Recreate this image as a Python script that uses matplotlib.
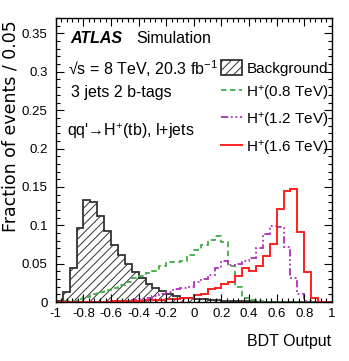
import numpy as np
import matplotlib
matplotlib.use("Agg")
import matplotlib.pyplot as plt
from matplotlib.ticker import MultipleLocator, FuncFormatter

plt.rcParams['font.family'] = ['Liberation Sans', 'DejaVu Sans']
plt.rcParams['mathtext.fontset'] = 'custom'
plt.rcParams['mathtext.rm'] = 'Liberation Sans'
plt.rcParams['mathtext.it'] = 'Liberation Sans:italic'
plt.rcParams['mathtext.bf'] = 'Liberation Sans:bold'
plt.rcParams['axes.unicode_minus'] = False
plt.rcParams['hatch.linewidth'] = 0.7

# BDT output binning, 40 bins of 0.05 from -1 to 1
edges = np.linspace(-1.0, 1.0, 41)

# Fraction of events per bin
background = [0.002, 0.013, 0.044, 0.097, 0.133, 0.131, 0.112, 0.093, 0.075, 0.061,
              0.050, 0.039, 0.031, 0.024, 0.019, 0.015, 0.011, 0.008, 0.006, 0.005,
              0.0043, 0.0038, 0.003, 0.0025, 0.002, 0.0018, 0.0015, 0.0012, 0.001, 0.0008,
              0.0006, 0.0005, 0.0004, 0.0003, 0.0002, 0.0002, 0.0001, 0.0001, 0.0, 0.0]
hp_800 = [0.0, 0.001, 0.002, 0.004, 0.007, 0.010, 0.013, 0.016, 0.019, 0.022,
          0.026, 0.031, 0.034, 0.038, 0.040, 0.047, 0.052, 0.052, 0.054, 0.061,
          0.068, 0.074, 0.081, 0.086, 0.078, 0.047, 0.020, 0.0056, 0.003, 0.001,
          0.0005, 0.0005, 0.0004, 0.0003, 0.0003, 0.0002, 0.0002, 0.0001, 0.0001, 0.0]
hp_1200 = [0.0005, 0.0005, 0.0005, 0.0005, 0.0005, 0.0005, 0.0005, 0.0005, 0.001, 0.0015,
           0.002, 0.003, 0.004, 0.006, 0.008, 0.011, 0.013, 0.0165, 0.018, 0.020,
           0.026, 0.030, 0.036, 0.045, 0.053, 0.049, 0.050, 0.053, 0.058, 0.071,
           0.089, 0.099, 0.098, 0.072, 0.032, 0.011, 0.002, 0.0, 0.0, 0.0]
hp_1600 = [0.0003, 0.0003, 0.0003, 0.0003, 0.0003, 0.0003, 0.0005, 0.0008, 0.001, 0.0012,
           0.0015, 0.002, 0.002, 0.0025, 0.003, 0.003, 0.0035, 0.004, 0.0048, 0.0056,
           0.009, 0.011, 0.0165, 0.019, 0.023, 0.026, 0.034, 0.044, 0.041, 0.047,
           0.060, 0.076, 0.121, 0.145, 0.147, 0.092, 0.039, 0.006, 0.0, 0.0]

fig = plt.figure(figsize=(3.49, 3.61), dpi=100)
ax = fig.add_axes([0.160, 0.163, 0.791, 0.787])

ax.stairs(background, edges, fill=True, facecolor="white", edgecolor="#333333",
          hatch="////", linewidth=1.3, label="Background")
ax.stairs(hp_800, edges, color="#44aa44", linewidth=1.3, linestyle=(0, (3, 2)),
          label="H$^{+}$(0.8 TeV)")
ax.stairs(hp_1200, edges, color="#b030b8", linewidth=1.3,
          linestyle=(0, (4, 1.5, 1, 1.5, 1, 1.5)), label="H$^{+}$(1.2 TeV)")
ax.stairs(hp_1600, edges, color="#ff2020", linewidth=1.4, label="H$^{+}$(1.6 TeV)")

ax.set_xlim(-1, 1)
ax.set_ylim(0, 0.37)
ax.xaxis.set_major_locator(MultipleLocator(0.2))
ax.xaxis.set_minor_locator(MultipleLocator(0.04))
ax.yaxis.set_major_locator(MultipleLocator(0.05))
ax.yaxis.set_minor_locator(MultipleLocator(0.01))
fmt = FuncFormatter(lambda v, p: "%g" % round(v, 3))
ax.xaxis.set_major_formatter(fmt)
ax.yaxis.set_major_formatter(fmt)
ax.tick_params(which="both", direction="in", top=True, right=True, labelsize=9.5)
ax.tick_params(which="major", length=6, width=0.8)
ax.tick_params(which="minor", length=3, width=0.8)
ax.tick_params(axis="x", pad=4)
ax.tick_params(axis="y", pad=6)
for s in ax.spines.values():
    s.set_linewidth(1.0)

ax.set_xlabel("BDT Output", fontsize=11.5, loc="right")
ax.xaxis.set_label_coords(0.996, -0.113)
ax.set_ylabel("Fraction of events / 0.05", fontsize=12.5, loc="top", family="DejaVu Sans")
ax.yaxis.set_label_coords(-0.133, 0.993)

# ATLAS labels
ax.text(0.051, 0.912, "ATLAS", transform=ax.transAxes, fontsize=11.5,
        fontweight="bold", fontstyle="italic")
ax.text(0.293, 0.912, "Simulation", transform=ax.transAxes, fontsize=11.5)
ax.text(0.043, 0.799, "\u221as = 8 TeV, 20.3 fb$^{-1}$", transform=ax.transAxes, fontsize=11.5)
ax.text(0.054, 0.722, "3 jets 2 b-tags", transform=ax.transAxes, fontsize=11.5)
ax.text(0.039, 0.585, "qq'\u2192H$^{+}$(tb), l+jets", transform=ax.transAxes, fontsize=11.5)

ax.legend(loc="upper left", bbox_to_anchor=(0.598, 0.853), frameon=False, fontsize=11,
          borderpad=0, borderaxespad=0, handlelength=1.4, handleheight=1.15,
          handletextpad=0.26, labelspacing=0.55)

fig.savefig("out.png", dpi=100)
